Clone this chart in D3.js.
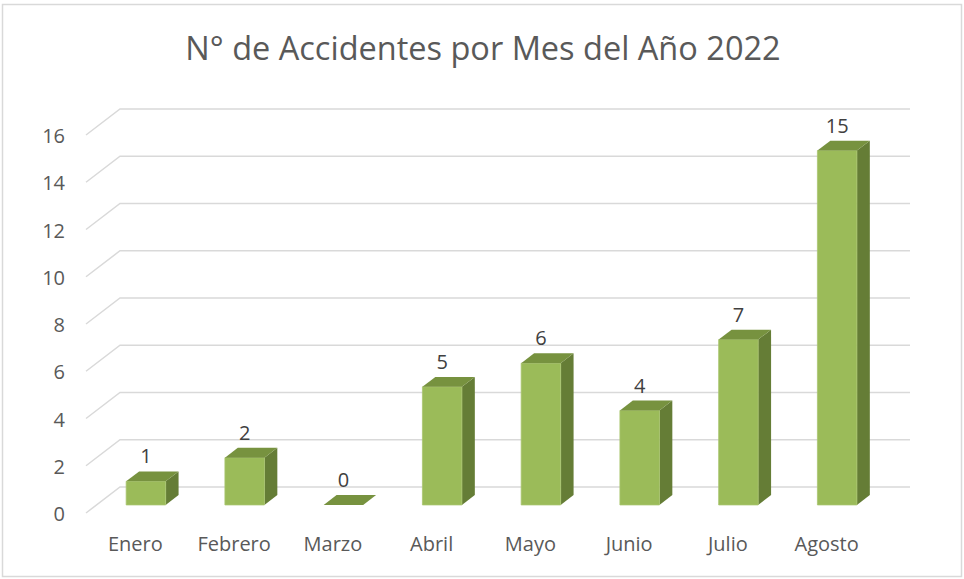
<!DOCTYPE html>
<html>
<head>
<meta charset="utf-8">
<script src="https://cdn.jsdelivr.net/npm/d3@7"></script>
<style>
    body { margin: 0; background: #fff; }
    svg { font-family: "Open Sans", Lato, sans-serif; }
</style>
</head>
<body>
<div id="chart"></div>
<script>
// data
const months = ["Enero", "Febrero", "Marzo", "Abril", "Mayo", "Junio", "Julio", "Agosto"];
const accidents = [1, 2, 0, 5, 6, 4, 7, 15];
const yTicks = [0, 2, 4, 6, 8, 10, 12, 14, 16];
const chartTitle = "N° de Accidentes por Mes del Año 2022";

const width = 964, height = 579;

// 3d projection: full depth of the floor shifts by (depthX, depthY)
const depthX = 34, depthY = -26;
const barFront = 0.31, barBack = 0.69;

const svg = d3.select("#chart").append("svg")
    .attr("width", width)
    .attr("height", height);

// chart border
svg.append("rect")
    .attr("x", 2.5).attr("y", 4.5)
    .attr("width", 959).attr("height", 572)
    .attr("fill", "#fff")
    .attr("stroke", "#d9d9d9")
    .attr("stroke-width", 1.5);

svg.append("text")
    .attr("x", 483)
    .attr("y", 60)
    .attr("text-anchor", "middle")
    .attr("fill", "#595959")
    .style("font-size", "32.5px")
    .text(chartTitle);

// front plane scales
let x = d3.scaleBand()
    .domain(months)
    .range([86, 876]);

let y = d3.scaleLinear()
    .domain([0, 16])
    .range([513, 135]);

function pt(px, v, d) {
    return [px + depthX * d, y(v) + depthY * d];
}

// gridlines: side wall diagonal + back wall line
let grid = svg.append("g");
yTicks.forEach(function(t) {
    let a = pt(x.range()[0], t, 0);
    let b = pt(x.range()[0], t, 1);
    let c = pt(x.range()[1], t, 1);
    grid.append("path")
        .attr("d", "M" + a + "L" + b + "L" + c)
        .attr("fill", "none")
        .attr("stroke", "#d9d9d9")
        .attr("stroke-width", 1.5);
});

// y tick labels
svg.append("g").selectAll("text")
    .data(yTicks)
    .enter().append("text")
    .attr("x", 65)
    .attr("y", function(d) { return y(d) + 8; })
    .attr("text-anchor", "end")
    .attr("fill", "#595959")
    .style("font-size", "20px")
    .text(function(d) { return d; });

// bars
let barW = x.bandwidth() * 0.4;
let bars = svg.append("g").selectAll("g")
    .data(months.map(function(m, i) { return { month: m, value: accidents[i] }; }))
    .enter().append("g");

bars.each(function(d) {
    let g = d3.select(this);
    let x0 = x(d.month) + (x.bandwidth() - barW) / 2;
    let x1 = x0 + barW;

    let f00 = pt(x0, 0, barFront), f10 = pt(x1, 0, barFront);
    let f01 = pt(x0, d.value, barFront), f11 = pt(x1, d.value, barFront);
    let b10 = pt(x1, 0, barBack);
    let b01 = pt(x0, d.value, barBack), b11 = pt(x1, d.value, barBack);

    // side
    g.append("path")
        .attr("d", "M" + f10 + "L" + b10 + "L" + b11 + "L" + f11 + "Z")
        .attr("fill", "#657d36");
    // front
    if (d.value > 0) {
        g.append("path")
            .attr("d", "M" + f00 + "L" + f10 + "L" + f11 + "L" + f01 + "Z")
            .attr("fill", "#9bbb59")
            .attr("stroke", "#a9c56f")
            .attr("stroke-width", 0.8);
    }
    // top
    g.append("path")
        .attr("d", "M" + f01 + "L" + f11 + "L" + b11 + "L" + b01 + "Z")
        .attr("fill", "#77923f");

    g.append("text")
        .attr("x", (x0 + x1) / 2 + depthX * barFront)
        .attr("y", b01[1] - 8)
        .attr("text-anchor", "middle")
        .attr("fill", "#404040")
        .style("font-size", "20px")
        .text(d.value);
});

// category labels
svg.append("g").selectAll("text")
    .data(months)
    .enter().append("text")
    .attr("x", function(d) { return x(d) + x.bandwidth() / 2; })
    .attr("y", 551)
    .attr("text-anchor", "middle")
    .attr("fill", "#595959")
    .style("font-size", "20px")
    .text(function(d) { return d; });
</script>
</body>
</html>
